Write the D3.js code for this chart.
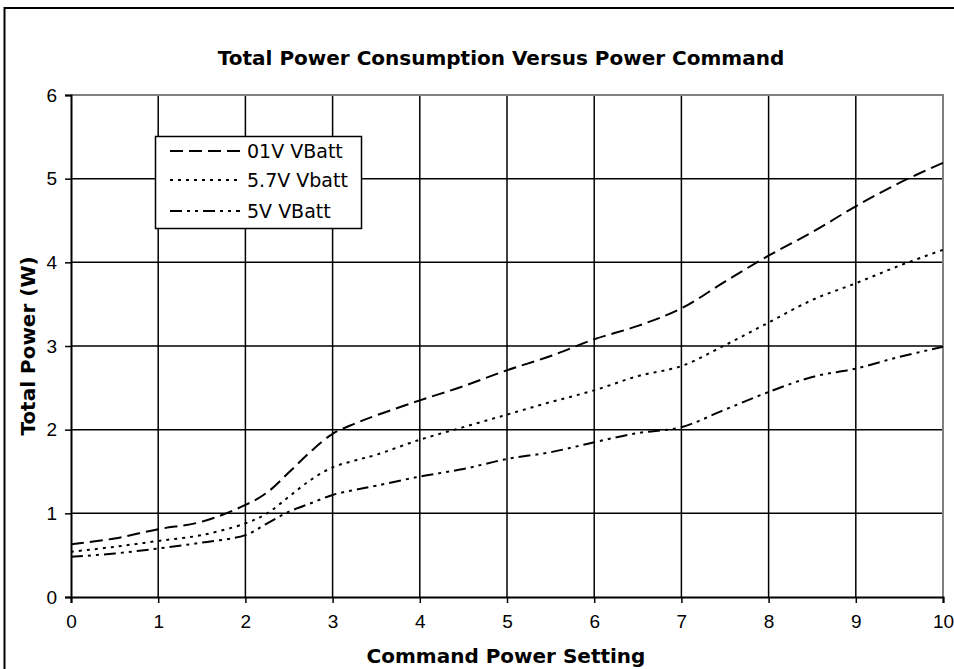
<!DOCTYPE html>
<html>
<head>
<meta charset="utf-8">
<script src="https://cdn.jsdelivr.net/npm/d3@7"></script>
<style>
    body { margin: 0; background: #fff; }
    svg { display: block; }
</style>
</head>
<body>
<div id="chart-area"></div>
<script>
// === Chart data ===
const commandSettings = [0, 0.5, 1, 1.5, 2, 2.25, 2.5, 2.75, 3, 3.25, 3.5, 4, 4.5, 5, 5.5, 6, 6.5, 7, 7.5, 8, 8.5, 9, 9.5, 10];
const power01V = [0.63, 0.70, 0.81, 0.90, 1.10, 1.25, 1.49, 1.74, 1.95, 2.07, 2.17, 2.35, 2.52, 2.71, 2.88, 3.08, 3.24, 3.45, 3.77, 4.08, 4.36, 4.67, 4.95, 5.19];
const power57V = [0.54, 0.60, 0.67, 0.74, 0.88, 1.00, 1.20, 1.40, 1.55, 1.63, 1.70, 1.88, 2.03, 2.18, 2.33, 2.47, 2.64, 2.76, 3.01, 3.28, 3.55, 3.75, 3.96, 4.15];
const power5V = [0.48, 0.52, 0.58, 0.65, 0.74, 0.88, 1.02, 1.12, 1.22, 1.28, 1.33, 1.44, 1.53, 1.65, 1.73, 1.85, 1.96, 2.03, 2.24, 2.45, 2.63, 2.73, 2.87, 2.99];
const seriesNames = ["01V VBatt", "5.7V Vbatt", "5V VBatt"];
const xTicks = [0, 1, 2, 3, 4, 5, 6, 7, 8, 9, 10];
const yTicks = [0, 1, 2, 3, 4, 5, 6];

// dash style per series: long dash, dotted, long dash-dot-dot
const dashStyles = ["13,6", "3,5", "12,5,3,5,3,5"];

function drawChart() {
    const svgWidth = 954;
    const svgHeight = 669;
    const plot = { left: 71, right: 943, top: 95, bottom: 597 };

    const svg = d3.select("#chart-area")
        .append("svg")
        .attr("width", svgWidth)
        .attr("height", svgHeight)
        .style("font-family", "'DejaVu Sans', Verdana, sans-serif");

    // Outer chart border (runs off the right and bottom edges)
    svg.append("rect")
        .attr("x", 4.5).attr("y", 8)
        .attr("width", 980).attr("height", 700)
        .attr("fill", "#fff")
        .attr("stroke", "#000")
        .attr("stroke-width", 2);

    const x = d3.scaleLinear().domain([0, 10]).range([plot.left, plot.right]);
    const y = d3.scaleLinear().domain([0, 6]).range([plot.bottom, plot.top]);

    // Grid lines
    svg.append("g")
        .selectAll("line.vgrid")
        .data(xTicks.slice(1, -1))
        .join("line")
        .attr("x1", d => x(d)).attr("x2", d => x(d))
        .attr("y1", plot.top).attr("y2", plot.bottom)
        .attr("stroke", "#000").attr("stroke-width", 1.5);

    svg.append("g")
        .selectAll("line.hgrid")
        .data(yTicks.slice(1, -1))
        .join("line")
        .attr("x1", plot.left).attr("x2", plot.right)
        .attr("y1", d => y(d)).attr("y2", d => y(d))
        .attr("stroke", "#000").attr("stroke-width", 1.5);

    // Plot area border (grey, top and right)
    svg.append("path")
        .attr("d", `M${plot.left},${plot.top}H${plot.right}V${plot.bottom}`)
        .attr("fill", "none")
        .attr("stroke", "#808080")
        .attr("stroke-width", 2);

    // X axis
    const xAxis = svg.append("g")
        .attr("transform", `translate(0,${plot.bottom})`)
        .call(d3.axisBottom(x).tickValues(xTicks).tickSize(6).tickPadding(12).tickFormat(d3.format("d")));
    xAxis.select(".domain").attr("stroke-width", 2);
    xAxis.selectAll(".tick line").attr("stroke-width", 1.5);
    xAxis.selectAll("text").style("font-size", "19px").attr("fill", "#000");

    // Y axis
    const yAxis = svg.append("g")
        .attr("transform", `translate(${plot.left},0)`)
        .call(d3.axisLeft(y).tickValues(yTicks).tickSize(6).tickPadding(8).tickFormat(d3.format("d")));
    yAxis.select(".domain").attr("stroke-width", 2);
    yAxis.selectAll(".tick line").attr("stroke-width", 1.5);
    yAxis.selectAll("text").style("font-size", "19px").attr("fill", "#000");

    // Series lines (smoothed like the original)
    const allSeries = [power01V, power57V, power5V];
    const line = d3.line()
        .x((d, i) => x(commandSettings[i]))
        .y(d => y(d))
        .curve(d3.curveCatmullRom.alpha(0.5));

    allSeries.forEach((values, i) => {
        svg.append("path")
            .datum(values)
            .attr("fill", "none")
            .attr("stroke", "#000")
            .attr("stroke-width", 2)
            .attr("stroke-dasharray", dashStyles[i])
            .attr("d", line);
    });

    // Titles
    svg.append("text")
        .attr("x", 501).attr("y", 65)
        .attr("text-anchor", "middle")
        .style("font-size", "20px").style("font-weight", "bold")
        .text("Total Power Consumption Versus Power Command");

    svg.append("text")
        .attr("x", 506).attr("y", 663)
        .attr("text-anchor", "middle")
        .style("font-size", "20px").style("font-weight", "bold")
        .text("Command Power Setting");

    svg.append("text")
        .attr("transform", `translate(35,${(plot.top + plot.bottom) / 2}) rotate(-90)`)
        .attr("text-anchor", "middle")
        .style("font-size", "20px").style("font-weight", "bold")
        .text("Total Power (W)");

    // Legend
    const legend = svg.append("g").attr("transform", "translate(155,136)");
    legend.append("rect")
        .attr("x", 0.5).attr("y", 0.5)
        .attr("width", 206).attr("height", 92)
        .attr("fill", "#fff")
        .attr("stroke", "#000")
        .attr("stroke-width", 1.5);

    const rowY = [15, 44, 75];
    seriesNames.forEach((name, i) => {
        legend.append("line")
            .attr("x1", 15).attr("x2", 85)
            .attr("y1", rowY[i]).attr("y2", rowY[i])
            .attr("stroke", "#000")
            .attr("stroke-width", 2)
            .attr("stroke-dasharray", dashStyles[i]);
        legend.append("text")
            .attr("x", 92).attr("y", rowY[i] + 7)
            .style("font-size", "19px")
            .text(name);
    });
}

drawChart();
</script>
</body>
</html>
